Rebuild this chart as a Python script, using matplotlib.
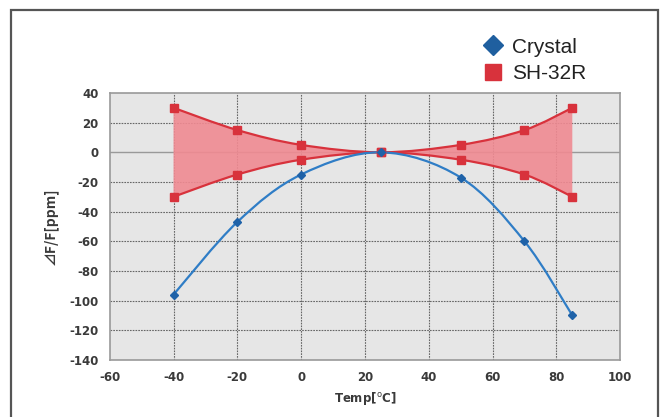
import numpy as np
import matplotlib.pyplot as plt
from matplotlib.path import Path
from matplotlib.patches import PathPatch, Rectangle
from matplotlib.lines import Line2D

plt.rcParams['axes.unicode_minus'] = False

# data
temps = [-40, -20, 0, 25, 50, 70, 85]
crystal = [-96, -47, -15, 0, -17, -60, -110]
sh_upper = [30, 15, 5, 0, 5, 15, 30]
sh_lower = [-30, -15, -5, 0, -5, -15, -30]

xticks = [-60, -40, -20, 0, 20, 40, 60, 80, 100]
yticks = [40, 20, 0, -20, -40, -60, -80, -100, -120, -140]


def smooth_path(xs, ys, t=1 / 6):
    # Excel style smoothed line: cubic bezier through the points
    pts = np.column_stack([xs, ys]).astype(float)
    verts = [pts[0]]
    codes = [Path.MOVETO]
    n = len(pts)
    for i in range(n - 1):
        p0 = pts[max(i - 1, 0)]
        p1 = pts[i]
        p2 = pts[i + 1]
        p3 = pts[min(i + 2, n - 1)]
        c1 = p1 + (p2 - p0) * t
        c2 = p2 - (p3 - p1) * t
        verts += [c1, c2, p2]
        codes += [Path.CURVE4] * 3
    return np.array(verts), codes


fig = plt.figure(figsize=(6.69, 4.17), dpi=100)
fig.patches.append(Rectangle((0.016, -0.05), 0.968, 1.025, transform=fig.transFigure,
                             fill=False, edgecolor='#555555', lw=1.6))

ax = fig.add_axes([0.164, 0.137, 0.763, 0.640])
ax.set_facecolor('#e6e6e6')
ax.set_xlim(-60, 100)
ax.set_ylim(-140, 40)

for x in xticks[1:-1]:
    ax.axvline(x, color='#666666', lw=0.8, ls=(0, (1.5, 1)), zorder=1)
for y in yticks[1:-1]:
    if y == 0:
        ax.axhline(y, color='#999999', lw=1.0, zorder=1)
    else:
        ax.axhline(y, color='#666666', lw=0.8, ls=(0, (1.5, 1)), zorder=1)

# SH-32R band
uv, uc = smooth_path(temps, sh_upper)
lv, lc = smooth_path(temps[::-1], sh_lower[::-1])
band_v = np.vstack([uv, lv[0:1], lv[1:], uv[0:1]])
band_c = uc + [Path.LINETO] + lc[1:] + [Path.CLOSEPOLY]
ax.add_patch(PathPatch(Path(band_v, band_c), facecolor='#f08a92', edgecolor='none',
                       alpha=0.9, zorder=2))
ax.add_patch(PathPatch(Path(uv, uc), facecolor='none', edgecolor='#d8323c', lw=1.6, zorder=3))
ax.add_patch(PathPatch(Path(lv, lc), facecolor='none', edgecolor='#d8323c', lw=1.6, zorder=3))
ax.plot(temps, sh_upper, ls='none', marker='s', ms=6, color='#d8323c', zorder=4)
ax.plot(temps, sh_lower, ls='none', marker='s', ms=6, color='#d8323c', zorder=4)

# Crystal curve
cv, cc = smooth_path(temps, crystal)
ax.add_patch(PathPatch(Path(cv, cc), facecolor='none', edgecolor='#2f7dc6', lw=1.6, zorder=3))
ax.plot(temps, crystal, ls='none', marker='D', ms=4.5, color='#1f62a8', zorder=4)

ax.set_xticks(xticks)
ax.set_yticks(yticks)
ax.tick_params(length=0, pad=8, labelsize=8.5, labelcolor='#3a3a3a')
for lab in ax.get_xticklabels() + ax.get_yticklabels():
    lab.set_fontweight('bold')
for s in ax.spines.values():
    s.set_color('#999999')
    s.set_linewidth(1.2)

ax.set_xlabel('Temp[$^{\\mathrm{o}}$C]', fontsize=8.5, fontweight='bold', color='#3a3a3a',
              labelpad=4)
ax.set_ylabel('⊿F/F[ppm]', fontsize=10, fontweight='bold', color='#3a3a3a', labelpad=8,
              family=['Noto Sans CJK JP', 'DejaVu Sans'])

handles = [Line2D([], [], ls='none', marker='D', ms=10, color='#1f5f9f'),
           Line2D([], [], ls='none', marker='s', ms=11, color='#d8323c')]
leg = fig.legend(handles, ['Crystal', 'SH-32R'], loc='upper left',
                 bbox_to_anchor=(0.69, 0.955), frameon=False, handletextpad=0.3,
                 labelspacing=0.35, handlelength=1.2,
                 prop={'family': 'Liberation Sans', 'size': 15})
for t in leg.get_texts():
    t.set_color('#222222')

fig.savefig('out.png', dpi=100)
